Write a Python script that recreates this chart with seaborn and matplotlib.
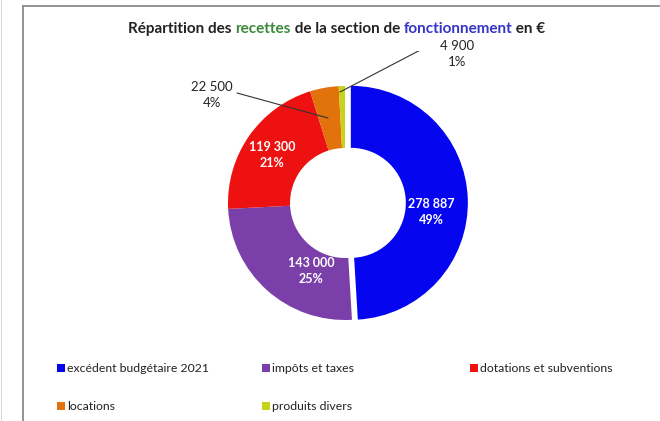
import matplotlib
matplotlib.use("Agg")
import matplotlib.pyplot as plt
import seaborn as sns
from matplotlib.patches import Rectangle

# Données
categories = ["excédent budgétaire 2021", "impôts et taxes", "dotations et subventions",
              "locations", "produits divers"]
montants = [278887, 143000, 119300, 22500, 4900]
montants_txt = ["278 887", "143 000", "119 300", "22 500", "4 900"]
pourcentages = ["49%", "25%", "21%", "4%", "1%"]
couleurs = ["#0505f0", "#7a3fa8", "#ee1111", "#e2720c", "#c8d21a"]

sns.set_theme(style="white")
plt.rcParams["font.family"] = ["Lato", "DejaVu Sans"]

fig = plt.figure(figsize=(6.6, 4.21), dpi=100)
W, H = 660, 421

# cadre (axe de fond avec bord gauche et haut)
frame = fig.add_axes([23 / W, -0.05, 636 / W, 1.05 - 6 / H], zorder=-1)
frame.set_xticks([])
frame.set_yticks([])
for side in ["right", "bottom"]:
    frame.spines[side].set_visible(False)
for side in ["left", "top"]:
    frame.spines[side].set_color("#8a8a8a")
    frame.spines[side].set_linewidth(1.3)
# trait clair au bord gauche de l'image
fig.add_artist(Rectangle((1 / W, 0), 1 / W, 1, facecolor="#d6d6d6",
                         edgecolor="none", transform=fig.transFigure))

# axe du donut : centre (345, 203), rayon 117 px
cx, cy, r = 345, 203, 117
half = 1.3 * r
ax = fig.add_axes([(cx - half) / W, (H - cy - half) / H, 2 * half / W, 2 * half / H])
ax.pie(montants, colors=couleurs, startangle=90, counterclock=False,
       explode=[0.05, 0, 0, 0, 0],
       wedgeprops=dict(width=0.53, edgecolor="none"))
ax.set_xlim(-1.3, 1.3)
ax.set_ylim(-1.3, 1.3)
ax.set_aspect("equal")
ax.axis("off")

def px(x, y):
    # pixels de l'image -> coordonnées du donut
    return ((x - cx) / r, (cy - y) / r)

# étiquettes intérieures
for i, (x, y) in zip(range(3), [(431, 212), (311, 271), (272, 155)]):
    ax.text(*px(x, y), f"{montants_txt[i]}\n{pourcentages[i]}", color="white",
            fontsize=9, fontweight="bold", ha="center", va="center", linespacing=1.4)

# étiquettes extérieures avec traits de rappel
ax.text(*px(212, 95), f"{montants_txt[3]}\n{pourcentages[3]}", color="#222222",
        fontsize=9.5, ha="center", va="center", linespacing=1.35)
ax.plot(*zip(px(237, 93), px(328, 118)), color="#333333", lw=0.8)
ax.text(*px(457, 54), f"{montants_txt[4]}\n{pourcentages[4]}", color="#222222",
        fontsize=9.5, ha="center", va="center", linespacing=1.35)
ax.plot(*zip(px(340, 92), px(428, 46)), color="#333333", lw=0.8)

# titre multicolore (morceaux enchaînés)
pieces = [("Répartition des ", "#222222"), ("recettes", "#3a8a3a"),
          (" de la section de ", "#222222"), ("fonctionnement", "#3535c8"),
          (" en €", "#222222")]
prev = fig.text(128 / W, 1 - 29 / H, pieces[0][0], color=pieces[0][1],
                fontsize=11, fontweight="bold", va="center", ha="left")
for txt, col in pieces[1:]:
    prev = plt.annotate(txt, xy=(1, 0.5), xycoords=prev, va="center", ha="left",
                        color=col, fontsize=11, fontweight="bold", annotation_clip=False)

# légende manuelle
leg_pos = [(65, 368), (270, 368), (478, 368), (65, 406), (270, 406)]
for (x, y), lab, col in zip(leg_pos, categories, couleurs):
    fig.add_artist(Rectangle(((x - 8) / W, (H - y - 4) / H), 8 / W, 8 / H,
                             facecolor=col, edgecolor="none", transform=fig.transFigure))
    fig.text((x + 2) / W, (H - y) / H, lab, fontsize=8.8, color="#222222",
             va="center", ha="left")

fig.savefig("out.png", dpi=100)
